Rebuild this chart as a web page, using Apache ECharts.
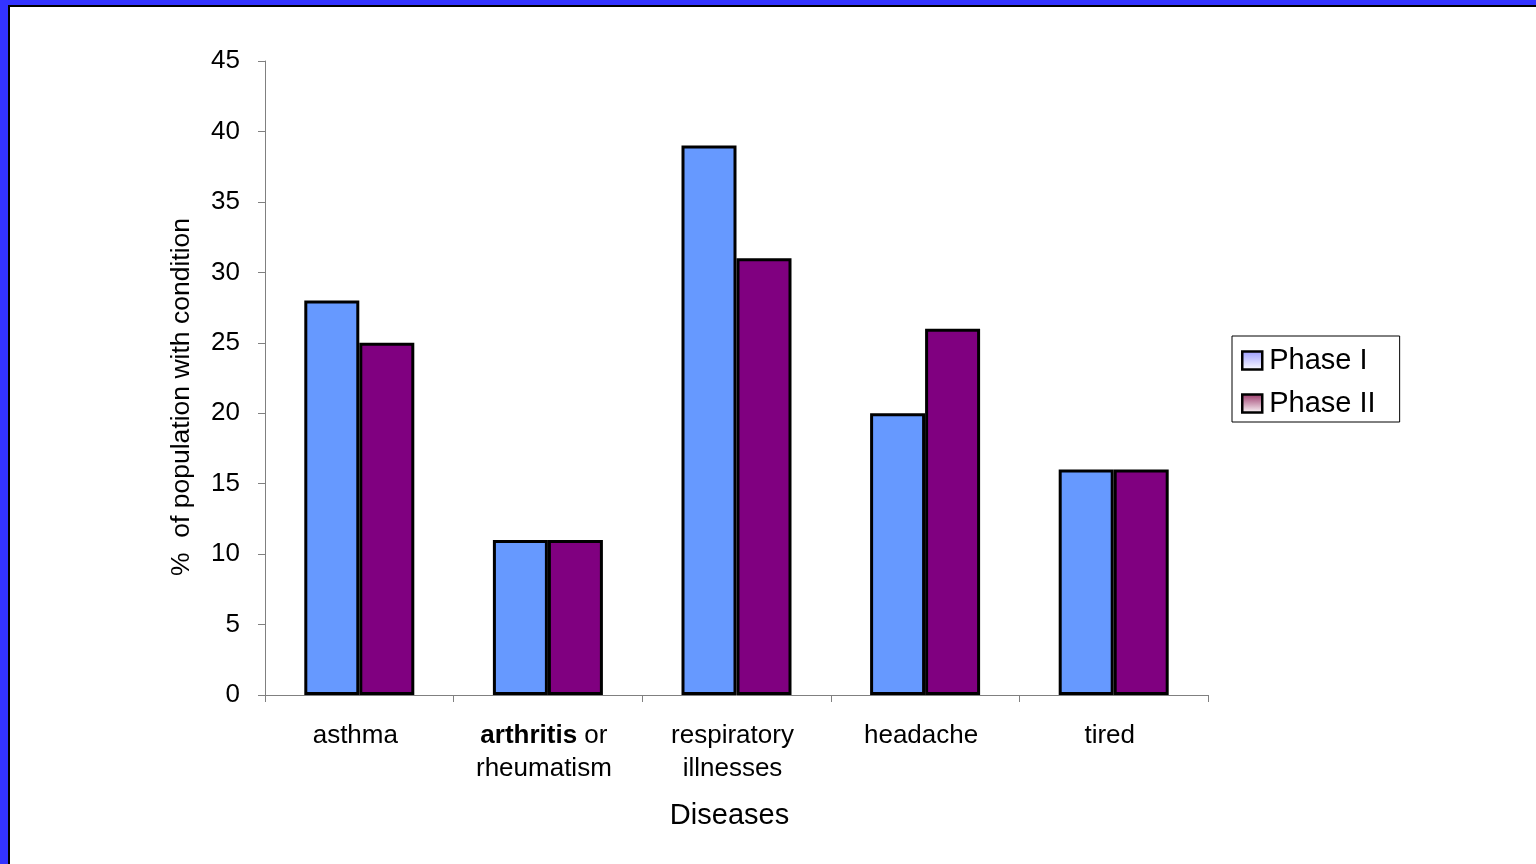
<!DOCTYPE html>
<html>
<head>
<meta charset="utf-8">
<script src="https://cdn.jsdelivr.net/npm/echarts@6/dist/echarts.min.js"></script>
<style>
html,body{margin:0;padding:0;background:#fff;}
#chart{width:1536px;height:864px;}
</style>
</head>
<body>
<div id="chart"></div>
<script>
const categories = ['asthma', '{b|arthritis} or\nrheumatism', 'respiratory\nillnesses', 'headache', 'tired'];
const phase1 = [28, 11, 39, 20, 16];
const phase2 = [25, 11, 31, 26, 16];
const yTicks = {min: 0, max: 45, interval: 5};
const seriesNames = ['Phase I', 'Phase II'];

const chart = echarts.init(document.getElementById('chart'));
const font = 'Arial, "Liberation Sans", sans-serif';
function grad(c) {
  return new echarts.graphic.LinearGradient(0, 0, 0, 1, [{offset: 0, color: c}, {offset: 1, color: '#ffffff'}]);
}
chart.setOption({
  backgroundColor: '#ffffff',
  animation: false,
  textStyle: {fontFamily: font},
  grid: {left: 265, top: 61, right: 328, bottom: 169, containLabel: false},
  legend: {
    orient: 'vertical',
    left: 1232, top: 336,
    padding: [10, 24, 4, 9],
    itemGap: 14,
    itemWidth: 20, itemHeight: 18,
    borderColor: '#000', borderWidth: 1,
    backgroundColor: '#fff',
    textStyle: {fontSize: 29, color: '#000', fontFamily: font, padding: [0, 0, 0, 2]},
    icon: 'rect',
    data: [
      {name: seriesNames[0], itemStyle: {color: grad('#9999ff'), borderColor: '#000', borderWidth: 2.5}},
      {name: seriesNames[1], itemStyle: {color: grad('#993366'), borderColor: '#000', borderWidth: 2.5}}
    ]
  },
  xAxis: {
    type: 'category',
    data: categories,
    name: 'Diseases',
    nameLocation: 'middle',
    nameGap: 106,
    nameTextStyle: {fontSize: 29, color: '#000', fontFamily: font, padding: [0, 14, 0, 0]},
    axisLine: {show: true, lineStyle: {color: '#808080', width: 1}},
    axisTick: {show: true, interval: 0, length: 7, lineStyle: {color: '#808080'}},
    axisLabel: {
      interval: 0,
      fontSize: 26, color: '#000', margin: 24, lineHeight: 33, fontFamily: font,
      padding: [0, 8, 0, 0],
      rich: {b: {fontWeight: 'bold', fontSize: 26, color: '#000', fontFamily: font, lineHeight: 33}}
    }
  },
  yAxis: {
    type: 'value',
    min: yTicks.min, max: yTicks.max, interval: yTicks.interval,
    name: '%  of population with condition',
    nameLocation: 'middle',
    nameGap: 70,
    nameTextStyle: {fontSize: 26.5, color: '#000', fontFamily: font, padding: [0, 38, 0, 0]},
    axisLine: {show: true, lineStyle: {color: '#808080', width: 1}},
    axisTick: {show: true, length: 7, lineStyle: {color: '#808080'}},
    splitLine: {show: false},
    axisLabel: {fontSize: 26, color: '#000', margin: 25, fontFamily: font, padding: [4, 0, 0, 0]}
  },
  series: [
    {name: seriesNames[0], type: 'bar', data: phase1, barWidth: 55, barGap: '0%',
     itemStyle: {color: '#6699ff', borderColor: '#000', borderWidth: 3}},
    {name: seriesNames[1], type: 'bar', data: phase2, barWidth: 55, barGap: '0%',
     itemStyle: {color: '#800080', borderColor: '#000', borderWidth: 3}}
  ],
  graphic: [
    {type: 'rect', left: 0, top: 0, shape: {width: 1536, height: 5}, style: {fill: '#3333ff'}, silent: true},
    {type: 'rect', left: 0, top: 0, shape: {width: 8, height: 864}, style: {fill: '#3333ff'}, silent: true},
    {type: 'rect', left: 8, top: 5, shape: {width: 1528, height: 2}, style: {fill: '#000'}, silent: true},
    {type: 'rect', left: 8, top: 5, shape: {width: 2, height: 859}, style: {fill: '#000'}, silent: true}
  ]
});
</script>
</body>
</html>
